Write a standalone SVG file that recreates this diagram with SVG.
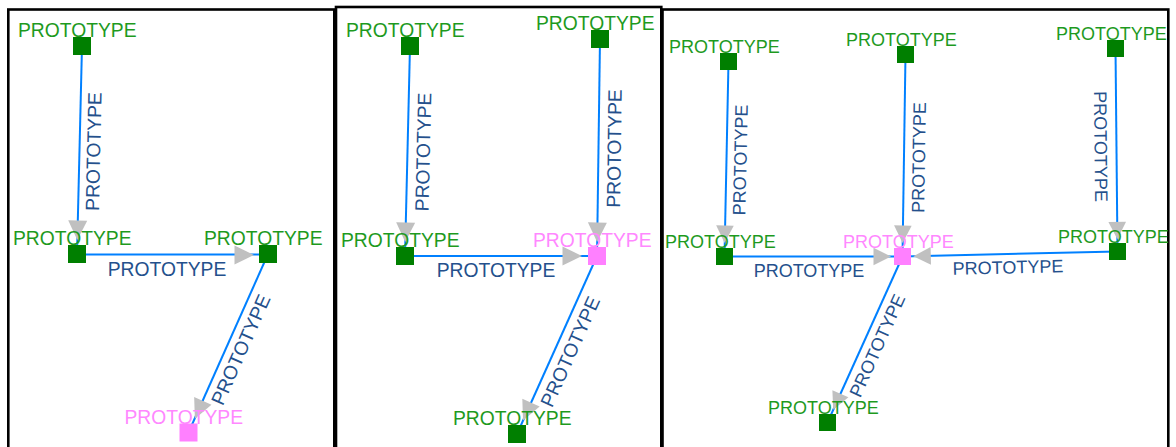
<svg xmlns="http://www.w3.org/2000/svg" width="1176" height="447" viewBox="0 0 1176 447">
<style>
.frame{fill:none;stroke:#000;stroke-width:2.6}
.ln{stroke:#0080ff;stroke-width:2;fill:none}
.ah{fill:#c0c0c0}
.el{font-family:"Liberation Sans",Arial,sans-serif;font-size:19.3px;fill:#24508c;text-anchor:middle}
.el3{font-size:18px}
.nl{font-family:"Liberation Sans",Arial,sans-serif;font-size:19.3px;fill:#1e9a1e}
.nl3{font-size:18px}
.pk{fill:#ff88ff}
.sq{fill:#007f00}
.sqp{fill:#ff80ff}
</style>
<defs>
<polygon id="ah" class="ah" points="0,0 -19.5,-9.5 -19.5,9.5"/>
<polygon id="ah3" class="ah" points="0,0 -17.5,-8.8 -17.5,8.8"/>
</defs>
<rect width="1176" height="447" fill="#fff"/>
<g id="frames">
<rect class="frame" x="8.3" y="9.5" width="326" height="460"/>
<rect class="frame" x="336" y="7" width="325.3" height="460"/>
<rect class="frame" x="662.5" y="9.5" width="505.8" height="460"/>
</g>
<g id="connectors">
<line class="ln" x1="82" y1="46" x2="77" y2="254"/>
<line class="ln" x1="77" y1="254.5" x2="268" y2="254.5"/>
<line class="ln" x1="268" y1="254" x2="188.5" y2="432.5"/>
<line class="ln" x1="410" y1="46" x2="405" y2="256"/>
<line class="ln" x1="600" y1="39" x2="597" y2="256"/>
<line class="ln" x1="405" y1="256" x2="597" y2="256"/>
<line class="ln" x1="597" y1="256" x2="517" y2="434"/>
<line class="ln" x1="728.5" y1="61.5" x2="724.5" y2="256.5"/>
<line class="ln" x1="905.5" y1="54.5" x2="902.5" y2="256.5"/>
<line class="ln" x1="1115.5" y1="48.5" x2="1117.5" y2="251.5"/>
<line class="ln" x1="724.5" y1="256.5" x2="902.5" y2="256.5"/>
<line class="ln" x1="1117.5" y1="251.5" x2="902.5" y2="256.5"/>
<line class="ln" x1="902.5" y1="256.5" x2="827.5" y2="422.5"/>
<use href="#ah" transform="translate(77.3,240) rotate(91.24)"/>
<use href="#ah" transform="translate(254,255) rotate(0)"/>
<use href="#ah" transform="translate(194.9,418.7) rotate(114)"/>
<use href="#ah" transform="translate(405.2,242) rotate(91.36)"/>
<use href="#ah" transform="translate(597.1,242) rotate(90.8)"/>
<use href="#ah" transform="translate(582,256) rotate(0)"/>
<use href="#ah" transform="translate(523,420.4) rotate(114.2)"/>
<use href="#ah3" transform="translate(724.6,243) rotate(91.18)"/>
<use href="#ah3" transform="translate(902.6,243) rotate(90.85)"/>
<use href="#ah3" transform="translate(1117.4,239.3) rotate(89.44)"/>
<use href="#ah3" transform="translate(891,256.5) rotate(0)"/>
<use href="#ah3" transform="translate(913.3,256.3) rotate(178.67)"/>
<use href="#ah3" transform="translate(833.2,409.7) rotate(114.3)"/>
<text class="el" transform="translate(93.3,151.5) rotate(-88.76)" y="6.9">PROTOTYPE</text>
<text class="el" transform="translate(167,269)" y="6.9">PROTOTYPE</text>
<text class="el" transform="translate(240.5,349.5) rotate(-66)" y="6.9">PROTOTYPE</text>
<text class="el" transform="translate(423,152) rotate(-88.64)" y="6.9">PROTOTYPE</text>
<text class="el" transform="translate(614,148.5) rotate(-89.2)" y="6.9">PROTOTYPE</text>
<text class="el" transform="translate(496,270)" y="6.9">PROTOTYPE</text>
<text class="el" transform="translate(570,351.5) rotate(-65.8)" y="6.9">PROTOTYPE</text>
<text class="el el3" transform="translate(740,160) rotate(-88.8)" y="6.5">PROTOTYPE</text>
<text class="el el3" transform="translate(918.5,157.5) rotate(-89.15)" y="6.5">PROTOTYPE</text>
<text class="el el3" transform="translate(1101,146.5) rotate(89.44)" y="6.5">PROTOTYPE</text>
<text class="el el3" transform="translate(809,270)" y="6.5">PROTOTYPE</text>
<text class="el el3" transform="translate(1008,267) rotate(-1.33)" y="6.5">PROTOTYPE</text>
<text class="el el3" transform="translate(877,345.5) rotate(-65.7)" y="6.5">PROTOTYPE</text>
</g>
<g id="nodeA"><rect class="sq" x="73" y="37" width="18" height="18"/><text class="nl" x="18" y="37">PROTOTYPE</text></g>
<g id="nodeB"><rect class="sq" x="68" y="245" width="18" height="18"/><text class="nl" x="13" y="245">PROTOTYPE</text></g>
<g id="nodeC"><rect class="sq" x="259" y="245" width="18" height="18"/><text class="nl" x="204" y="245">PROTOTYPE</text></g>
<g id="nodeD"><rect class="sqp" x="179.5" y="423.5" width="18" height="18"/><text class="nl pk" x="124.5" y="423.5">PROTOTYPE</text></g>
<g id="nodeE"><rect class="sq" x="401" y="37" width="18" height="18"/><text class="nl" x="346" y="37">PROTOTYPE</text></g>
<g id="nodeF"><rect class="sq" x="591" y="30" width="18" height="18"/><text class="nl" x="536" y="30">PROTOTYPE</text></g>
<g id="nodeG"><rect class="sq" x="396" y="247" width="18" height="18"/><text class="nl" x="341" y="247">PROTOTYPE</text></g>
<g id="nodeH"><rect class="sqp" x="588" y="247" width="18" height="18"/><text class="nl pk" x="533" y="247">PROTOTYPE</text></g>
<g id="nodeI"><rect class="sq" x="508" y="425" width="18" height="18"/><text class="nl" x="453" y="425">PROTOTYPE</text></g>
<g id="nodeJ"><rect class="sq" x="720" y="53" width="17" height="17"/><text class="nl nl3" x="669" y="53">PROTOTYPE</text></g>
<g id="nodeK"><rect class="sq" x="897" y="46" width="17" height="17"/><text class="nl nl3" x="846" y="46">PROTOTYPE</text></g>
<g id="nodeL"><rect class="sq" x="1107" y="40" width="17" height="17"/><text class="nl nl3" x="1056" y="40">PROTOTYPE</text></g>
<g id="nodeM"><rect class="sq" x="716" y="248" width="17" height="17"/><text class="nl nl3" x="665" y="248">PROTOTYPE</text></g>
<g id="nodeN"><rect class="sqp" x="894" y="248" width="17" height="17"/><text class="nl nl3 pk" x="843" y="248">PROTOTYPE</text></g>
<g id="nodeO"><rect class="sq" x="1109" y="243" width="17" height="17"/><text class="nl nl3" x="1058" y="243">PROTOTYPE</text></g>
<g id="nodeP"><rect class="sq" x="819" y="414" width="17" height="17"/><text class="nl nl3" x="768" y="414">PROTOTYPE</text></g>
</svg>
